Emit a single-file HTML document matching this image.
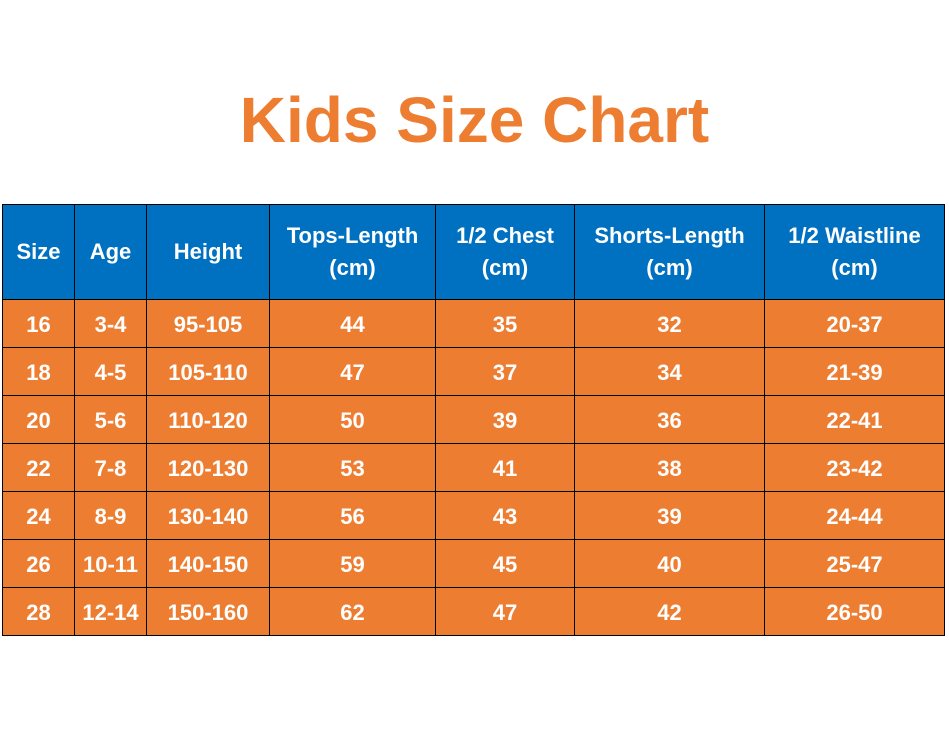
<!DOCTYPE html>
<html><head><style>
body{margin:0;width:949px;height:742px;background:#fff;position:relative;overflow:hidden;font-family:"Liberation Sans",sans-serif;}
h1{position:absolute;left:0;width:949px;top:80px;margin:0;text-align:center;font-size:64px;font-weight:bold;color:#ED7D31;line-height:80px;}
table{position:absolute;left:2px;top:204px;border-collapse:collapse;table-layout:fixed;}
td{border:1.5px solid #000;color:#fff;font-weight:bold;font-size:22px;text-align:center;padding:2px 0 0 0;height:45px;background:#ED7D31;}
tr.h td{background:#0070C0;height:94px;font-size:22px;line-height:32px;padding:0;}
</style></head><body>
<h1>Kids Size Chart</h1>
<table>
<colgroup><col style="width:72px"><col style="width:72px"><col style="width:123px"><col style="width:166px"><col style="width:139px"><col style="width:190px"><col style="width:180px"></colgroup>
<tr class="h"><td>Size</td><td>Age</td><td>Height</td><td>Tops-Length<br>(cm)</td><td>1/2 Chest<br>(cm)</td><td>Shorts-Length<br>(cm)</td><td>1/2 Waistline<br>(cm)</td></tr>
<tr><td>16</td><td>3-4</td><td>95-105</td><td>44</td><td>35</td><td>32</td><td>20-37</td></tr>
<tr><td>18</td><td>4-5</td><td>105-110</td><td>47</td><td>37</td><td>34</td><td>21-39</td></tr>
<tr><td>20</td><td>5-6</td><td>110-120</td><td>50</td><td>39</td><td>36</td><td>22-41</td></tr>
<tr><td>22</td><td>7-8</td><td>120-130</td><td>53</td><td>41</td><td>38</td><td>23-42</td></tr>
<tr><td>24</td><td>8-9</td><td>130-140</td><td>56</td><td>43</td><td>39</td><td>24-44</td></tr>
<tr><td>26</td><td>10-11</td><td>140-150</td><td>59</td><td>45</td><td>40</td><td>25-47</td></tr>
<tr><td>28</td><td>12-14</td><td>150-160</td><td>62</td><td>47</td><td>42</td><td>26-50</td></tr>
</table>
</body></html>
